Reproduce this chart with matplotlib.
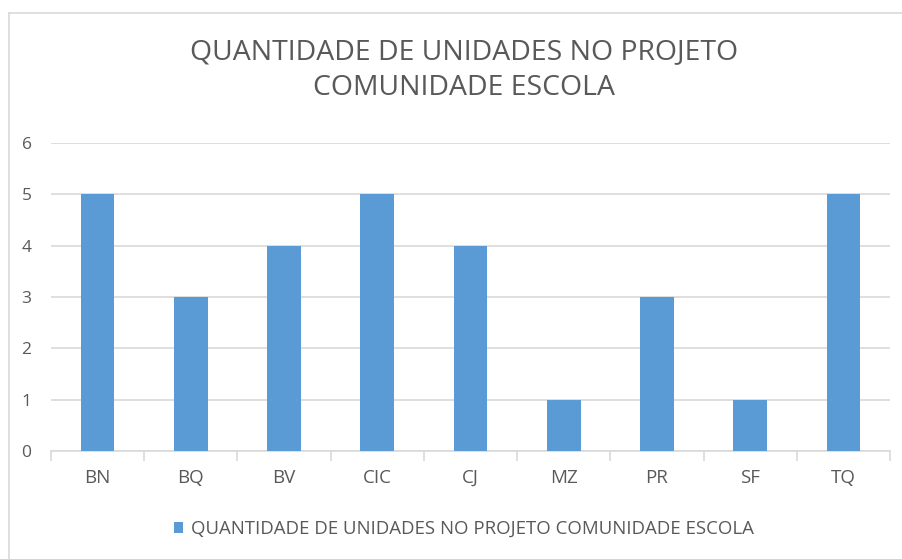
import matplotlib.pyplot as plt

# data
categorias = ["BN", "BQ", "BV", "CIC", "CJ", "MZ", "PR", "SF", "TQ"]
unidades = [5, 3, 4, 5, 4, 1, 3, 1, 5]
titulo = "QUANTIDADE DE UNIDADES NO PROJETO\nCOMUNIDADE ESCOLA"
serie = "QUANTIDADE DE UNIDADES NO PROJETO COMUNIDADE ESCOLA"

azul = "#5B9BD5"
cinza = "#595959"
grade = "#D9D9D9"

plt.rcParams['font.family'] = ['Open Sans', 'DejaVu Sans']

fig = plt.figure(figsize=(9.03, 5.59), dpi=100)
W, H = 903, 559

# chart border (only left and top visible in the crop)
fig.add_artist(plt.Line2D([9 / W, 9 / W], [0, 1 - 13 / H], color=grade, lw=1.2, transform=fig.transFigure))
fig.add_artist(plt.Line2D([9 / W, 1], [1 - 13 / H, 1 - 13 / H], color=grade, lw=1.2, transform=fig.transFigure))

ax = fig.add_axes([51 / W, 1 - 451 / H, (890 - 51) / W, (451 - 143) / H])
x = range(len(categorias))
ax.bar(x, unidades, width=0.36, color=azul, label=serie, zorder=3)

ax.set_xlim(-0.5, len(categorias) - 0.5)
ax.set_ylim(0, 6)
ax.set_yticks(range(0, 7))
ax.yaxis.grid(True, color=grade, lw=1.2, zorder=0)
ax.tick_params(axis='y', length=0, labelsize=12.5, labelcolor=cinza, pad=14)

ax.set_xticks(list(x))
ax.set_xticklabels(categorias)
ax.set_xticks([i - 0.5 for i in range(len(categorias) + 1)], minor=True)
ax.tick_params(axis='x', which='major', length=0, labelsize=13.5, labelcolor=cinza, pad=13)
ax.tick_params(axis='x', which='minor', length=7, color=grade, width=1.2)

for s in ["top", "right", "left"]:
    ax.spines[s].set_visible(False)
ax.spines["bottom"].set_color(grade)
ax.spines["bottom"].set_linewidth(1.2)

fig.text(464 / W, 1 - 70 / H, titulo, ha='center', va='center', fontsize=20.4,
         color=cinza, linespacing=1.4)

fig.legend(loc='center', bbox_to_anchor=(464 / W, 1 - 529 / H), frameon=False,
           fontsize=13.4, labelcolor=cinza, handlelength=0.5, handleheight=0.5,
           handletextpad=0.45)

fig.savefig("out.png", dpi=100)
